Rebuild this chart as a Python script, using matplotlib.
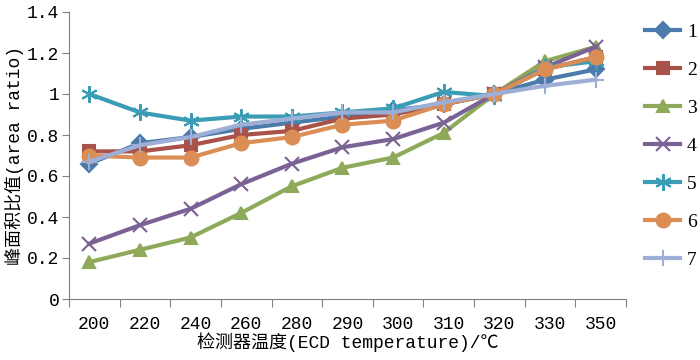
import numpy as np
import matplotlib
matplotlib.use("Agg")
import matplotlib.pyplot as plt

plt.rcParams['font.family'] = ['Liberation Mono', 'Noto Sans CJK SC', 'DejaVu Sans']

temps = ['200', '220', '240', '260', '280', '290', '300', '310', '320', '330', '350']

s1 = [0.66, 0.76, 0.79, 0.83, 0.86, 0.89, 0.92, 0.95, 1.0, 1.07, 1.12]
s2 = [0.72, 0.72, 0.75, 0.80, 0.82, 0.88, 0.90, 0.95, 1.0, 1.12, 1.18]
s3 = [0.18, 0.24, 0.30, 0.42, 0.55, 0.64, 0.69, 0.81, 1.0, 1.16, 1.23]
s4 = [0.27, 0.36, 0.44, 0.56, 0.66, 0.74, 0.78, 0.86, 1.0, 1.13, 1.23]
s5 = [1.00, 0.91, 0.87, 0.89, 0.89, 0.91, 0.93, 1.01, 0.99, 1.13, 1.16]
s6 = [0.70, 0.69, 0.69, 0.76, 0.79, 0.85, 0.87, 0.95, 1.0, 1.12, 1.18]
s7 = [0.67, 0.75, 0.79, 0.85, 0.88, 0.91, 0.91, 0.96, 1.0, 1.04, 1.07]

series = [s1, s2, s3, s4, s5, s6, s7]
names = ['1', '2', '3', '4', '5', '6', '7']
colors = ['#4A7BAA', '#A9524A', '#8FA95A', '#7A6294', '#3B9CB5', '#DA8E55', '#9DAFD6']
markers = ['D', 's', '^', 'x', (6, 2, 0), 'o', '+']
msizes = [8, 9, 9, 10, 12, 10, 12]

fig = plt.figure(figsize=(7, 3.6), dpi=100)
ax = fig.add_axes([69/700, 61/360, 557/700, 287/360])

x = np.arange(len(temps)) - 0.1
for ys, name, c, m, ms in zip(series, names, colors, markers, msizes):
    ax.plot(x, ys, color=c, lw=3, marker=m, markersize=ms, label=name,
            markeredgecolor=c, markerfacecolor=c, markeredgewidth=1.5)

ax.set_xlim(-0.5, len(temps) - 0.5)
ax.set_ylim(0, 1.4)
ax.set_yticks(np.arange(0, 1.41, 0.2))
ax.set_yticklabels(['0', '0.2', '0.4', '0.6', '0.8', '1', '1.2', '1.4'], fontsize=13)

ax.set_xticks(np.arange(len(temps) + 1) - 0.5)
ax.set_xticklabels([])
ax.set_xticks(np.arange(len(temps)), minor=True)
ax.set_xticklabels(temps, minor=True, fontsize=13)
ax.tick_params(axis='x', which='minor', length=0, pad=12)
ax.tick_params(axis='x', which='major', length=6, color='#808080')
ax.tick_params(axis='y', length=5, color='#808080', pad=2)

for side in ['top', 'right']:
    ax.spines[side].set_visible(False)
for side in ['left', 'bottom']:
    ax.spines[side].set_color('#808080')

ax.set_xlabel('检测器温度(ECD temperature)/℃', fontsize=13, labelpad=0)
ax.set_ylabel('峰面积比值(area ratio)', fontsize=13, labelpad=2)

fig.legend(loc='upper left', bbox_to_anchor=(645/700, 1 - 23/360), frameon=False,
           borderaxespad=0, borderpad=0, labelspacing=1.05,
           handlelength=1.8, handletextpad=0.35,
           prop={'family': ['Liberation Serif'], 'size': 14})

fig.savefig('out.png', dpi=100)
